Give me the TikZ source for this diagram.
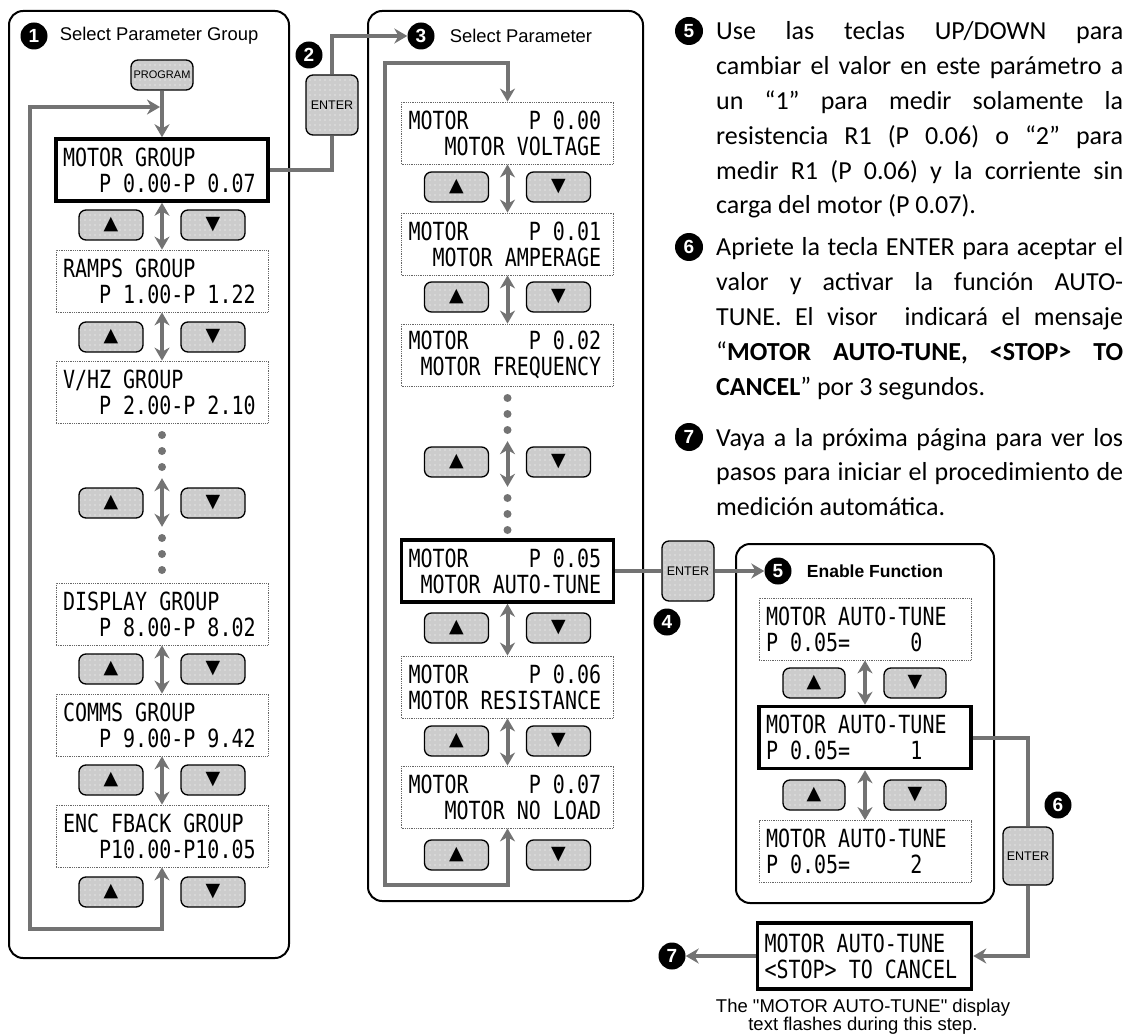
\documentclass[tikz,border=0pt]{standalone}
\usepackage{fontspec}
\setmainfont{Liberation Sans}
\newfontfamily\lcdfont[FakeStretch=0.8]{DejaVu Sans Mono}
\newfontfamily\txtfont{Carlito}
\newfontfamily\symfont{DejaVu Sans}
\newcommand\lcdspace{\fontdimen2\font=\fontcharwd\font48\relax\fontdimen3\font=0pt\fontdimen4\font=0pt\relax}
\usepackage{tikz}
\usetikzlibrary{arrows.meta,positioning,patterns.meta,calc}
\colorlet{keyfill}{black!20}
\colorlet{linkgray}{black!55}

\begin{document}
\begin{tikzpicture}[
  x=1pt, y=-1pt,
  >={Stealth[length=13pt,width=15pt]},
  panel/.style={draw, line width=2pt, rounded corners=14pt, anchor=north west, inner sep=0pt},
  disp/.style={draw=black!60, densely dotted, line width=0.8pt, text width=198pt, inner xsep=7pt, minimum height=62pt, align=flush left, font=\lcdfont\fontsize{25}{26}\selectfont\lcdspace},
  sel/.style={disp, solid, draw=black, line width=3.5pt},
  key/.style={draw, line width=1.3pt, rounded corners=7pt, preaction={fill=keyfill}, pattern={Dots[distance=5pt,radius=0.6pt]}, pattern color=white, inner sep=0pt},
  arrkey/.style={key, minimum width=64pt, minimum height=30pt, font=\symfont\fontsize{19}{19}\selectfont},
  enterkey/.style={key, minimum width=52pt, minimum height=60pt, font=\fontsize{12.5}{13}\selectfont},
  num/.style={circle, fill=black, text=white, inner sep=0pt, minimum size=27pt, font=\bfseries\fontsize{19}{19}\selectfont},
  ttl/.style={inner sep=0pt, font=\fontsize{18.4}{20}\selectfont},
  dot/.style={circle, fill=linkgray, inner sep=0pt, minimum size=8pt},
  link/.style={draw=linkgray, line width=4pt},
  dbl/.style={link, <->},
  para/.style={anchor=base west, inner sep=0pt, text width=407pt, align=flush left, font=\txtfont\fontsize{26}{34.8}\selectfont},
  capt/.style={inner sep=0pt, align=flush center, font=\fontsize{18.5}{17}\selectfont},
]
\useasboundingbox (0,0) rectangle (1133,1035);

\node[panel, minimum width=280pt, minimum height=947pt] (lpanel) at (8,10) {};
\node[panel, minimum width=275pt, minimum height=890pt] (mpanel) at (367,10) {};
\node[panel, minimum width=258pt, minimum height=359pt] (epanel) at (735,543) {};

\node[num] (n1) at (34,36) {1};
\node[ttl, right=12pt of n1] (t1) {Select Parameter Group};
\node[num] (n2) at (309,55) {2};
\node[num] (n3) at (421,36) {3};
\node[ttl, right=15pt of n3] (t3) {Select Parameter};
\node[num] (n4) at (667,622) {4};
\node[num] (n5) at (778,571) {5};
\node[ttl, right=15pt of n5, font=\bfseries\fontsize{17.5}{20}\selectfont] (t5) {Enable Function};
\node[num] (n6) at (1058,805) {6};
\node[num] (n7) at (672,956) {7};

\node[key, minimum width=62pt, minimum height=30pt, font=\fontsize{11}{12}\selectfont] (prog) at (162,75) {PROGRAM};
\node[enterkey] (e2) at (332,105) {ENTER};
\node[enterkey] (e4) at (688,571) {ENTER};
\node[enterkey, minimum width=50pt, minimum height=58pt] (e6) at (1028,856) {ENTER};

\node[sel]  (g1) at (162,170) {MOTOR GROUP\\~~~P 0.00-P 0.07};
\node[disp] (g2) at (162,281) {RAMPS GROUP\\~~~P 1.00-P 1.22};
\node[disp] (g3) at (162,392) {V/HZ GROUP\\~~~P 2.00-P 2.10};
\node[disp] (g4) at (162,614) {DISPLAY GROUP\\~~~P 8.00-P 8.02};
\node[disp] (g5) at (162,725) {COMMS GROUP\\~~~P 9.00-P 9.42};
\node[disp] (g6) at (162,836) {ENC FBACK GROUP\\~~~P10.00-P10.05};

\node[disp] (m0) at (507.5,133) {MOTOR~~~~~P 0.00\\~~~MOTOR VOLTAGE};
\node[disp] (m1) at (507.5,244) {MOTOR~~~~~P 0.01\\~~MOTOR AMPERAGE};
\node[disp] (m2) at (507.5,355) {MOTOR~~~~~P 0.02\\~MOTOR FREQUENCY};
\node[sel]  (m5) at (507.5,571) {MOTOR~~~~~P 0.05\\~MOTOR AUTO-TUNE};
\node[disp] (m6) at (507.5,687) {MOTOR~~~~~P 0.06\\MOTOR RESISTANCE};
\node[disp] (m7) at (507.5,797) {MOTOR~~~~~P 0.07\\~~~MOTOR NO LOAD};

\node[disp] (a0) at (865,629) {MOTOR AUTO-TUNE\\P 0.05=~~~~~0};
\node[sel]  (a1) at (865,737.5) {MOTOR AUTO-TUNE\\P 0.05=~~~~~1};
\node[disp] (a2) at (865,851.5) {MOTOR AUTO-TUNE\\P 0.05=~~~~~2};

\node[sel, text width=200pt, minimum height=66pt] (fin) at (864.5,956) {MOTOR AUTO-TUNE\\<STOP> TO CANCEL};
\node[capt] (cap) at (863,1017) {The \textquotedbl MOTOR AUTO-TUNE\textquotedbl\ display\\text flashes during this step.};

\foreach \cy [count=\i] in {225,337,503,669,780,892}{
  \node[arrkey] (lu\i) at (111,\cy) {▲};
  \node[arrkey] (ld\i) at (213,\cy) {▼};
}
\foreach \cy [count=\i] in {187,297,462,628,741,855}{
  \node[arrkey] (mu\i) at (456.5,\cy) {▲};
  \node[arrkey] (md\i) at (558.5,\cy) {▼};
}
\foreach \cy [count=\i] in {683,795}{
  \node[arrkey, minimum width=62pt] (au\i) at (814,\cy) {▲};
  \node[arrkey, minimum width=62pt] (ad\i) at (915,\cy) {▼};
}
\foreach \cy [count=\i] in {435,451,467,538,554,570}
  \node[dot] (ldot\i) at (162,\cy) {};
\foreach \cy [count=\i] in {398,414,430,498,514,530}
  \node[dot] (mdot\i) at (507.5,\cy) {};

\node[num, minimum size=28pt] (c5) at (689,31) {5};
\node[para] (s5) at (716,40) {\makebox[407pt][s]{Use las teclas UP/DOWN para}\\
  \makebox[407pt][s]{cambiar el valor en este parámetro a}\\
  \makebox[407pt][s]{un “1” para medir solamente la}\\
  \makebox[407pt][s]{resistencia R1 (P 0.06) o “2” para}\\
  \makebox[407pt][s]{medir R1 (P 0.06) y la corriente sin}\\
  carga del motor (P 0.07).};
\node[num, minimum size=28pt] (c6) at (689,247) {6};
\node[para] (s6) at (716,256) {\makebox[407pt][s]{Apriete la tecla ENTER para aceptar el}\\
  \makebox[407pt][s]{valor y activar la función AUTO-}\\
  \makebox[407pt][s]{TUNE. El visor ~indicará el mensaje}\\
  \makebox[407pt][s]{“\textbf{MOTOR AUTO-TUNE, <STOP> TO}}\\
  \textbf{CANCEL}” por 3 segundos.};
\node[num, minimum size=28pt] (c7) at (689,437) {7};
\node[para] (s7) at (716,446) {\makebox[407pt][s]{Vaya a la próxima página para ver los}\\
  \makebox[407pt][s]{pasos para iniciar el procedimiento de}\\
  medición automática.};

\coordinate (ljoin) at (162,107);
\coordinate (lcorner) at (30,929);
\coordinate (mtop) at (385,63);
\coordinate (mbot) at (385,885);

\draw[link, ->] (prog) -- (g1);
\draw[link, <->, shorten >=2pt] (g6.south) |- (lcorner) |- (ljoin);
\draw[dbl] (g1) -- (g2);
\draw[dbl] (g2) -- (g3);
\draw[dbl, shorten <=7pt, shorten >=7pt] (ldot3) -- (ldot4);
\draw[dbl] (g4) -- (g5);
\draw[dbl] (g5) -- (g6);

\draw[link] (g1.east) -| (e2.south);
\draw[link, ->] (e2.north) |- (n3);

\draw[link, <->] (m7.south) |- (mbot) -- (mtop) -| (m0.north);
\draw[dbl] (m0) -- (m1);
\draw[dbl] (m1) -- (m2);
\draw[dbl, shorten <=7pt, shorten >=7pt] (mdot3) -- (mdot4);
\draw[dbl] (m5) -- (m6);
\draw[dbl] (m6) -- (m7);

\draw[link] (m5) -- (e4);
\draw[link, ->] (e4) -- (n5);
\draw[dbl] (a0) -- (a1);
\draw[dbl] (a1) -- (a2);
\draw[link] (a1.east) -| (e6.north);
\draw[link, ->] (e6.south) |- (fin.east);
\draw[link, ->] (fin.west) -- (n7);
\end{tikzpicture}
\end{document}
